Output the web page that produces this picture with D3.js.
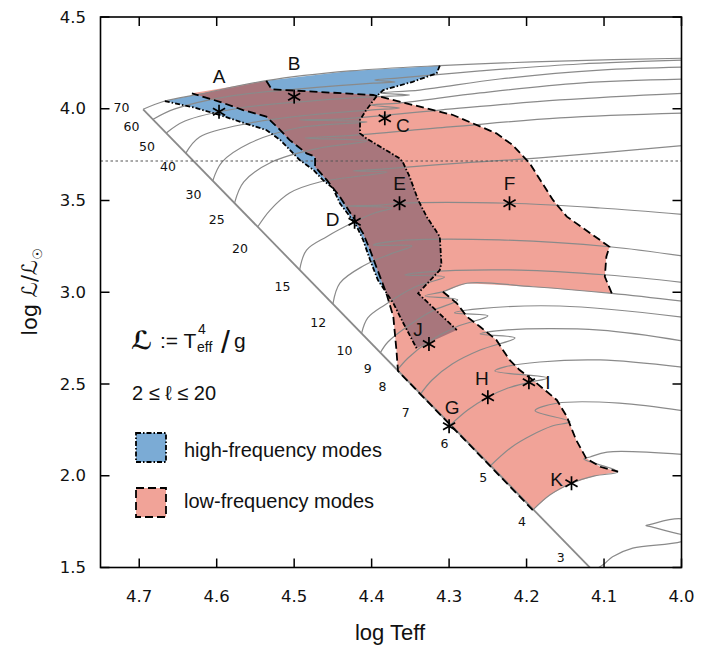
<!DOCTYPE html>
<html><head><meta charset="utf-8">
<script src="https://cdn.jsdelivr.net/npm/d3@7"></script>
<style>body{margin:0;background:#fff}svg{display:block}</style>
</head><body><svg id="c" width="713" height="646"></svg>
<script>
// ---------- DATA ----------
const xTicks=[4.7,4.6,4.5,4.4,4.3,4.2,4.1,4.0];
const yTicks=[1.5,2.0,2.5,3.0,3.5,4.0,4.5];
const masses=[70,60,50,40,30,25,20,15,12,10,9,8,7,6,5,4,3];
// label positions of masses [logTeff, logL]
const massLabelT=[4.723,4.710,4.690,4.663,4.630,4.600,4.570,4.515,4.469,4.435,4.405,4.386,4.356,4.306,4.256,4.206,4.156];
const massLabelL=[4.008,3.902,3.793,3.684,3.530,3.398,3.236,3.034,2.834,2.682,2.582,2.484,2.347,2.178,1.988,1.753,1.552];

const track70=[[4.695,3.997],[4.667,4.042],[4.622,4.080],[4.536,4.153],[4.428,4.206],[4.312,4.235],[4.157,4.260],[3.99,4.276]];
const track60=[[4.682,3.943],[4.654,3.999],[4.583,4.069],[4.493,4.108],[4.398,4.140],[4.370,4.146],[4.396,4.157],[4.364,4.168],[4.260,4.206],[4.131,4.244],[3.99,4.266]];
const track50=[[4.665,3.868],[4.641,3.933],[4.570,4.004],[4.480,4.042],[4.402,4.064],[4.351,4.075],[4.389,4.086],[4.338,4.102],[4.235,4.162],[4.105,4.211],[3.99,4.228]];
const track40=[[4.640,3.757],[4.622,3.846],[4.557,3.922],[4.480,3.966],[4.402,3.993],[4.364,4.004],[4.402,4.020],[4.364,4.031],[4.260,4.086],[4.131,4.140],[3.99,4.162]];
const track30=[[4.605,3.608],[4.593,3.710],[4.557,3.813],[4.496,3.895],[4.406,3.928],[4.493,3.939],[4.441,3.944],[4.312,3.993],[4.157,4.048],[3.99,4.086]];
const track25=[[4.577,3.486],[4.565,3.601],[4.529,3.710],[4.467,3.786],[4.406,3.824],[4.486,3.841],[4.435,3.852],[4.299,3.901],[4.157,3.950],[3.99,3.977]];
const track20=[[4.547,3.357],[4.531,3.448],[4.506,3.541],[4.467,3.601],[4.380,3.655],[4.424,3.661],[4.383,3.672],[4.286,3.704],[4.183,3.732],[3.99,3.802]];
const track15=[[4.493,3.121],[4.484,3.230],[4.458,3.303],[4.422,3.384],[4.396,3.432],[4.374,3.459],[4.435,3.470],[4.389,3.475],[4.364,3.485],[4.222,3.485],[4.105,3.459],[3.99,3.421]];
const track12=[[4.450,2.936],[4.441,3.050],[4.411,3.143],[4.376,3.208],[4.348,3.252],[4.398,3.257],[4.370,3.279],[4.235,3.285],[4.093,3.248],[3.99,3.192]];
const track10=[[4.413,2.776],[4.405,2.860],[4.383,2.931],[4.344,3.029],[4.306,3.083],[4.357,3.094],[4.331,3.110],[4.209,3.121],[4.095,3.094],[3.99,3.050]];
const track9=[[4.389,2.669],[4.379,2.729],[4.353,2.816],[4.322,2.898],[4.289,2.958],[4.331,2.980],[4.308,3.003],[4.277,3.049],[4.192,3.030],[4.090,2.994],[3.99,2.947]];
const track8=[[4.367,2.576],[4.353,2.642],[4.327,2.729],[4.291,2.811],[4.250,2.871],[4.293,2.887],[4.263,2.909],[4.157,2.925],[3.99,2.860]];
const track7=[[4.337,2.445],[4.322,2.522],[4.296,2.609],[4.260,2.685],[4.215,2.751],[4.260,2.772],[4.228,2.794],[4.105,2.794],[3.99,2.729]];
const track6=[[4.300,2.270],[4.276,2.358],[4.250,2.428],[4.224,2.478],[4.197,2.509],[4.173,2.533],[4.241,2.571],[4.228,2.593],[4.183,2.620],[4.105,2.631],[3.99,2.587]];
const track5=[[4.247,2.053],[4.219,2.157],[4.193,2.222],[4.167,2.271],[4.144,2.295],[4.189,2.354],[4.161,2.395],[4.080,2.396],[3.99,2.349]];
const track4=[[4.192,1.813],[4.170,1.895],[4.142,1.959],[4.112,1.999],[4.082,2.022],[4.126,2.091],[4.118,2.102],[4.096,2.129],[3.99,2.113]];
const track3=[[4.114,1.481],[4.100,1.519],[4.089,1.559],[4.063,1.606],[4.000,1.641],[3.970,1.700],[4.000,1.765],[4.040,1.735],[4.046,1.729],[4.040,1.723],[4.000,1.680],[3.970,1.666]];
const tracks=[track70,track60,track50,track40,track30,track25,track20,track15,track12,track10,track9,track8,track7,track6,track5,track4,track3];
const zams=[[4.695,3.997],[4.08,1.334]];

// high-frequency (blue) region
const hfTop=[[4.667,4.042],[4.622,4.080],[4.536,4.153],[4.428,4.206],[4.312,4.235]];
const hfRight=[[4.312,4.235],[4.316,4.193],[4.347,4.147],[4.385,4.102],[4.394,4.066],[4.407,3.993],[4.415,3.939],[4.415,3.866],[4.407,3.839],[4.364,3.730],[4.360,3.711],[4.351,3.630],[4.340,3.503],[4.329,3.412],[4.312,3.303],[4.310,3.158],[4.312,3.121],[4.340,2.994],[4.290,2.794]];
const hfLeft=[[4.667,4.042],[4.630,4.008],[4.596,3.966],[4.566,3.924],[4.536,3.884],[4.518,3.830],[4.493,3.721],[4.475,3.666],[4.463,3.612],[4.450,3.568],[4.441,3.485],[4.428,3.412],[4.419,3.357],[4.411,3.285],[4.402,3.176],[4.392,3.067],[4.372,2.940],[4.359,2.831],[4.342,2.695]];
// low-frequency (salmon) region
const lfTop=[[4.632,4.084],[4.583,4.119],[4.536,4.153]];
const lfRight1=[[4.536,4.153],[4.529,4.106],[4.398,4.075],[4.295,3.966],[4.239,3.866],[4.218,3.802],[4.196,3.703],[4.166,3.503],[4.148,3.412],[4.093,3.248],[4.097,3.194],[4.099,3.085],[4.090,2.994]];
const lfMid=[[4.090,2.994],[4.192,3.030],[4.277,3.049],[4.308,3.003]];
const lfRight2=[[4.308,3.003],[4.290,2.940],[4.277,2.867],[4.260,2.812],[4.239,2.740],[4.222,2.631],[4.209,2.576],[4.192,2.522],[4.161,2.413],[4.148,2.322],[4.136,2.195],[4.123,2.095],[4.105,2.049],[4.082,2.022]];
const lfBottom=[[4.082,2.022],[4.112,1.999],[4.142,1.959],[4.170,1.895],[4.192,1.813]];
const lfLeft=[[4.192,1.813],[4.366,2.571],[4.368,2.685],[4.372,2.867],[4.381,2.994],[4.394,3.139],[4.402,3.230],[4.411,3.321],[4.419,3.376],[4.441,3.521],[4.458,3.612],[4.473,3.684],[4.473,3.739],[4.484,3.757],[4.506,3.830],[4.518,3.884],[4.536,3.957],[4.566,3.993],[4.596,4.038],[4.632,4.084]];

const dividerL=3.715;
const modelNames=["A","B","C","D","E","F","G","H","I","J","K"];
const modelT=[4.597,4.500,4.383,4.422,4.364,4.222,4.300,4.250,4.197,4.326,4.142];
const modelL=[3.984,4.066,3.948,3.384,3.485,3.485,2.270,2.428,2.509,2.718,1.959];

// ---------- DRAW ----------
const svg=d3.select("#c");
const x=d3.scaleLinear().domain([4.75,4.0]).range([100.5,681.5]);
const y=d3.scaleLinear().domain([1.5,4.5]).range([567.5,17]);
const line=d3.line().x(d=>x(d[0])).y(d=>y(d[1]));
const smooth=d3.line().x(d=>x(d[0])).y(d=>y(d[1])).curve(d3.curveCatmullRom.alpha(0.5));

const BLUE="#7babd5", SALMON="#f1a398", MAUVE="#a8767c", GRAY="#8a8a8a";

const defs=svg.append("defs");
defs.append("clipPath").attr("id","plot").append("rect")
  .attr("x",x(4.75)).attr("y",y(4.5)).attr("width",x(4.0)-x(4.75)).attr("height",y(1.5)-y(4.5));
const lfPoly=[...lfTop,...lfRight1.slice(1),...lfMid.slice(1),...lfRight2.slice(1),...lfBottom.slice(1),...lfLeft.slice(1)];
const hfPoly=[...hfTop,...hfRight.slice(1),...hfLeft.slice().reverse()];
defs.append("clipPath").attr("id","lfclip").append("path").attr("d",line(lfPoly)+"Z");

const g=svg.append("g").attr("clip-path","url(#plot)");
g.append("path").attr("d",line(hfPoly)+"Z").attr("fill",BLUE);
g.append("path").attr("d",line(lfPoly)+"Z").attr("fill",SALMON);
g.append("g").attr("clip-path","url(#lfclip)").append("path").attr("d",line(hfPoly)+"Z").attr("fill",MAUVE);

// tracks
g.selectAll("path.trk").data(tracks).enter().append("path").attr("class","trk")
  .attr("d",d=>smooth(d)).attr("fill","none").attr("stroke",GRAY).attr("stroke-width",1.2);
g.append("path").attr("d",line(zams)).attr("fill","none").attr("stroke",GRAY).attr("stroke-width",1.8);
// divider
g.append("line").attr("x1",x(4.75)).attr("x2",x(4.0)).attr("y1",y(dividerL)).attr("y2",y(dividerL))
  .attr("stroke","#555").attr("stroke-width",1.1).attr("stroke-dasharray","2.5,2.5");

// boundaries
const DASHDOT="5,2,1.5,2", DASH="8,4";
[hfRight,hfLeft].forEach(p=>g.append("path").attr("d",line(p)).attr("fill","none").attr("stroke","#000").attr("stroke-width",1.8).attr("stroke-dasharray",DASHDOT));
[lfRight1,lfRight2,lfLeft].forEach(p=>g.append("path").attr("d",line(p)).attr("fill","none").attr("stroke","#000").attr("stroke-width",1.8).attr("stroke-dasharray",DASH));

// mass labels
masses.forEach((m,i)=>{
  svg.append("text").attr("x",x(massLabelT[i])).attr("y",y(massLabelL[i])).attr("text-anchor","middle")
    .attr("dominant-baseline","central").attr("font-family","DejaVu Sans").attr("font-size",12.5).attr("fill","#111").text(m);
});

// models
const off={A:[0,-35],B:[0,-33],C:[18,7],D:[-22,-2],E:[0,-20],F:[0,-20],G:[3,-19],H:[-6,-19],I:[19,0],J:[-11,-14],K:[-15,-4]};
modelNames.forEach((n,i)=>{
  const cx=x(modelT[i]), cy=y(modelL[i]), r=7;
  const ast=svg.append("g").attr("stroke","#000").attr("stroke-width",1.7);
  [90,30,-30].forEach(a=>{const rad=a*Math.PI/180;
    ast.append("line").attr("x1",cx-r*Math.cos(rad)).attr("y1",cy-r*Math.sin(rad)).attr("x2",cx+r*Math.cos(rad)).attr("y2",cy+r*Math.sin(rad));});
  svg.append("text").attr("x",cx+off[n][0]).attr("y",cy+off[n][1]).attr("text-anchor","middle").attr("dominant-baseline","central")
    .attr("font-family","Liberation Sans").attr("font-size",19).attr("fill","#111").text(n);
});

// frame & ticks
svg.append("rect").attr("x",x(4.75)).attr("y",y(4.5)).attr("width",x(4.0)-x(4.75)).attr("height",y(1.5)-y(4.5))
  .attr("fill","none").attr("stroke","#000").attr("stroke-width",1.6);
const tk=9;
xTicks.forEach(t=>{
  svg.append("line").attr("x1",x(t)).attr("x2",x(t)).attr("y1",y(1.5)).attr("y2",y(1.5)-tk).attr("stroke","#000").attr("stroke-width",1.5);
  svg.append("line").attr("x1",x(t)).attr("x2",x(t)).attr("y1",y(4.5)).attr("y2",y(4.5)+tk).attr("stroke","#000").attr("stroke-width",1.5);
  svg.append("text").attr("x",x(t)).attr("y",601.5).attr("text-anchor","middle").attr("font-family","DejaVu Sans").attr("font-size",16.5).attr("fill","#111").text(t.toFixed(1));
});
yTicks.forEach(t=>{
  svg.append("line").attr("x1",x(4.75)).attr("x2",x(4.75)+tk).attr("y1",y(t)).attr("y2",y(t)).attr("stroke","#000").attr("stroke-width",1.5);
  svg.append("line").attr("x1",x(4.0)).attr("x2",x(4.0)-tk).attr("y1",y(t)).attr("y2",y(t)).attr("stroke","#000").attr("stroke-width",1.5);
  svg.append("text").attr("x",86).attr("y",y(t)).attr("text-anchor","end").attr("dominant-baseline","central").attr("font-family","DejaVu Sans").attr("font-size",16.5).attr("fill","#111").text(t.toFixed(1));
});

// axis titles
svg.append("text").attr("x",390).attr("y",640).attr("text-anchor","middle").attr("font-family","Liberation Sans").attr("font-size",22).attr("fill","#111").text("log Teff");
const yl=svg.append("text").attr("transform","translate(37,292) rotate(-90)").attr("text-anchor","middle").attr("font-family","DejaVu Sans").attr("font-size",21).attr("fill","#111");
yl.append("tspan").text("log ℒ/ℒ");
yl.append("tspan").attr("font-size",13).attr("dy",5).text("☉");

// formula
const f=svg.append("g").attr("font-family","Liberation Sans").attr("fill","#111");
f.append("text").attr("x",131).attr("y",349).attr("font-family","DejaVu Sans").attr("font-style","italic").attr("font-weight","bold").attr("font-size",25).text("ℒ");
f.append("text").attr("x",160).attr("y",348).attr("font-size",21).text(":= T");
f.append("text").attr("x",198).attr("y",334).attr("font-size",14).text("4");
f.append("text").attr("x",197).attr("y",352).attr("font-size",14).text("eff");
f.append("text").attr("x",221).attr("y",353).attr("font-size",32).text("/");
f.append("text").attr("x",234).attr("y",348).attr("font-size",21).text("g");
svg.append("text").attr("x",132).attr("y",400).attr("font-family","Liberation Sans").attr("font-size",20).attr("fill","#111").text("2 ≤ ℓ ≤ 20");

// legend
svg.append("rect").attr("x",136).attr("y",433).attr("width",30).attr("height",29).attr("fill",BLUE).attr("stroke","#000").attr("stroke-width",1.8).attr("stroke-dasharray",DASHDOT);
svg.append("text").attr("x",184).attr("y",457).attr("font-family","Liberation Sans").attr("font-size",20).attr("fill","#111").text("high-frequency modes");
svg.append("rect").attr("x",136).attr("y",488).attr("width",30).attr("height",29).attr("fill",SALMON).attr("stroke","#000").attr("stroke-width",1.8).attr("stroke-dasharray",DASH);
svg.append("text").attr("x",184).attr("y",508).attr("font-family","Liberation Sans").attr("font-size",20).attr("fill","#111").text("low-frequency modes");
</script></body></html>
